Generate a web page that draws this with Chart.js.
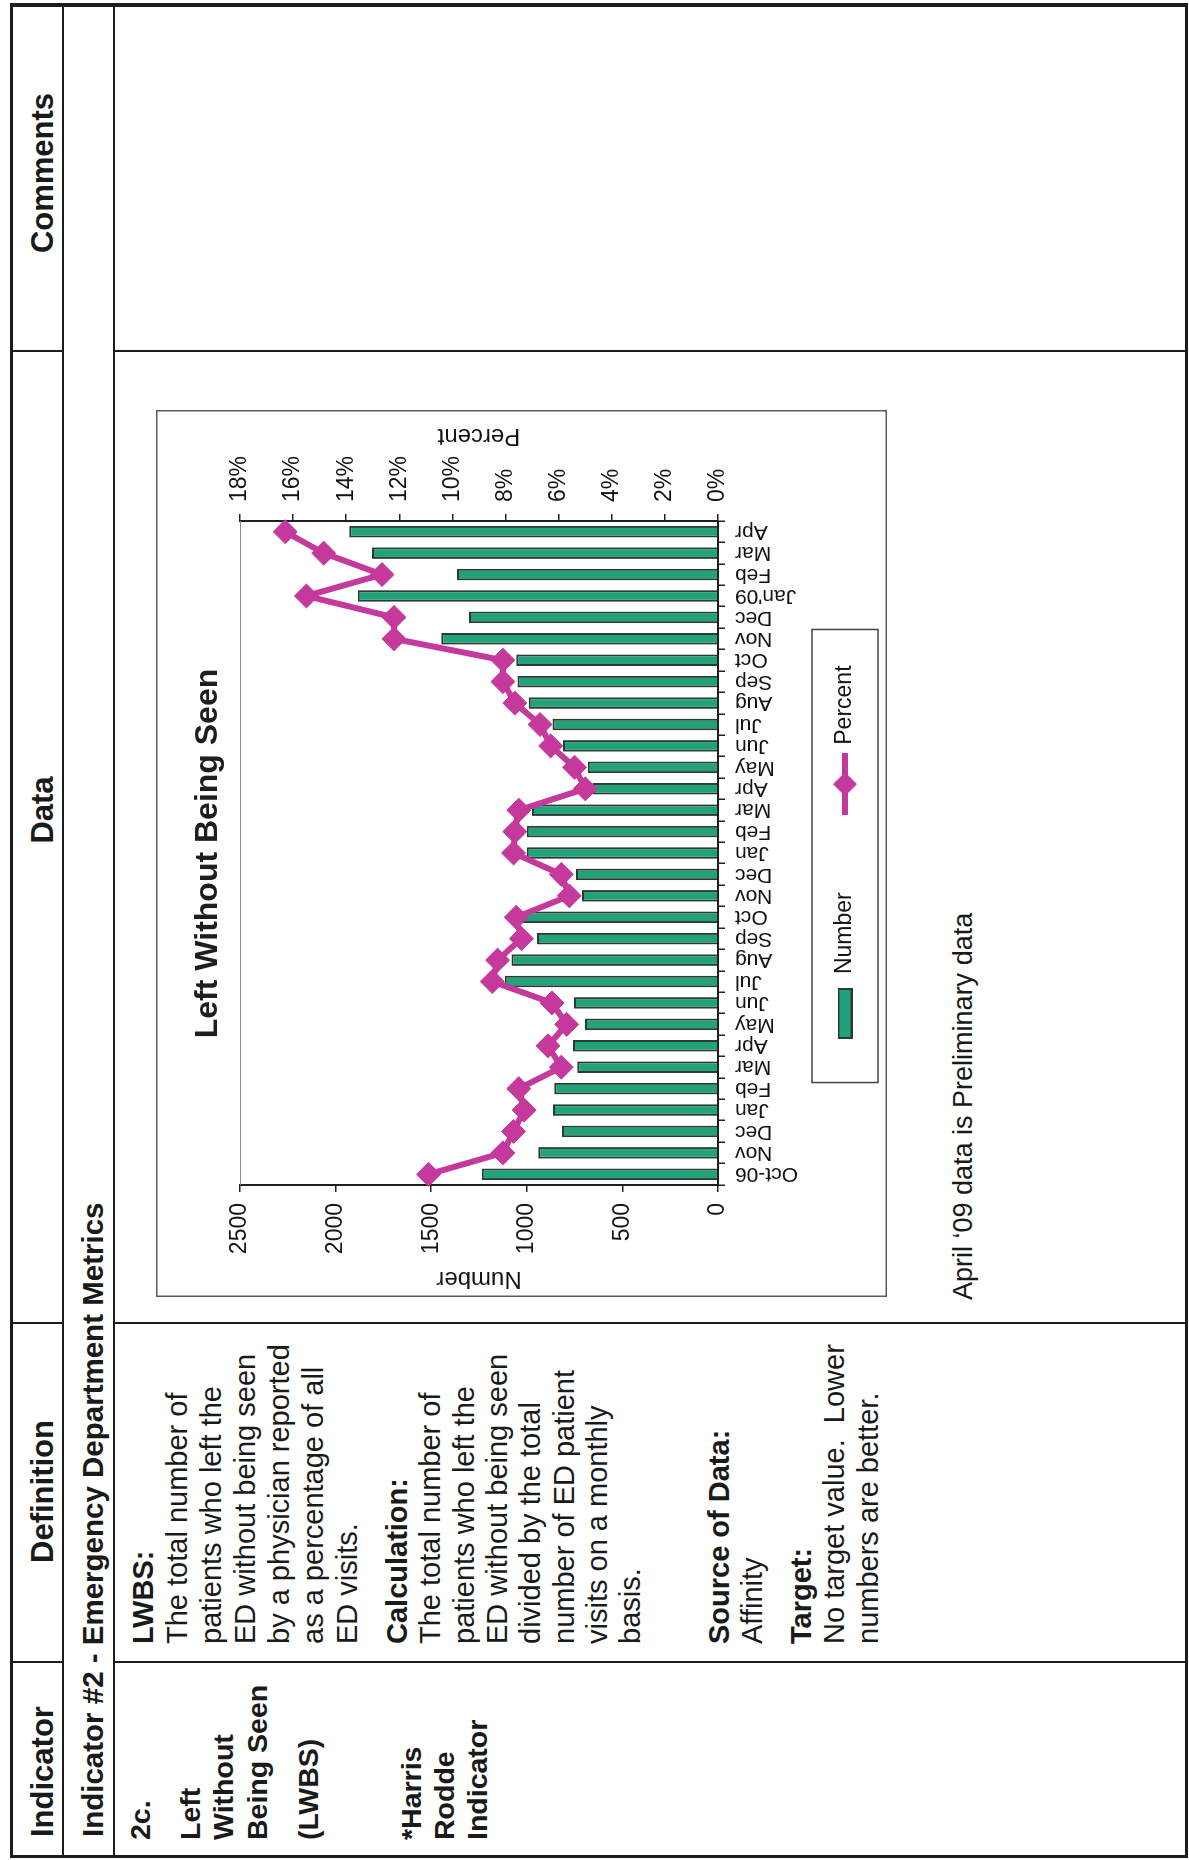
<!DOCTYPE html>
<html>
<head>
<meta charset="utf-8">
<script src="https://cdn.jsdelivr.net/npm/chart.js@4.4.1/dist/chart.umd.min.js"></script>
<style>
html,body{margin:0;padding:0;background:#fff;overflow:hidden;width:1189px;height:1860px;}
#page{position:absolute;left:0;top:0;width:1860px;height:1189px;transform-origin:0 0;transform:translate(0px,1860px) rotate(-90deg);font-family:'Liberation Sans',Arial,sans-serif;color:#1a1a1a;background:#fff;}
.ln{position:absolute;background:#1c1c1c;}
.t{position:absolute;white-space:pre;line-height:1;}
.b{font-weight:bold;}
.h{font-size:31px;font-weight:bold;top:26.8px;}
.c{text-align:center;width:400px;}
.ind{font-size:28.5px;font-weight:bold;left:20px;}
.def{font-size:29px;left:216px;}
#chartWrap{position:absolute;left:563px;top:156px;width:887px;height:731px;}
</style>
</head>
<body>
<div id="page">
  <!-- outer borders -->
  <div class="ln" style="left:2px;top:10px;width:1855px;height:2.5px;"></div>
  <div class="ln" style="left:2px;top:1185px;width:1855px;height:3px;"></div>
  <div class="ln" style="left:2px;top:10px;width:3px;height:1178px;"></div>
  <div class="ln" style="left:1853px;top:10px;width:4px;height:1178px;"></div>
  <!-- row lines -->
  <div class="ln" style="left:2px;top:62px;width:1855px;height:2px;"></div>
  <div class="ln" style="left:2px;top:113px;width:1855px;height:2px;"></div>
  <!-- header column separators -->
  <div class="ln" style="left:197px;top:10px;width:2px;height:53px;"></div>
  <div class="ln" style="left:536px;top:10px;width:2px;height:53px;"></div>
  <div class="ln" style="left:1508px;top:10px;width:2px;height:53px;"></div>
  <!-- content column separators -->
  <div class="ln" style="left:197px;top:114px;width:2px;height:1073px;"></div>
  <div class="ln" style="left:536px;top:114px;width:2px;height:1073px;"></div>
  <div class="ln" style="left:1508px;top:114px;width:2px;height:1073px;"></div>

  <!-- header texts -->
  <div class="t h" style="left:23px;">Indicator</div>
  <div class="t h c" style="left:168.5px;">Definition</div>
  <div class="t h c" style="left:850px;">Data</div>
  <div class="t h c" style="left:1487px;">Comments</div>

  <div class="t b" style="left:23px;top:78px;font-size:29.5px;">Indicator #2 - Emergency Department Metrics</div>

  <!-- indicator column -->
  <div class="t ind" style="top:125.9px;">2c.</div>
  <div class="t ind" style="top:175.9px;">Left</div>
  <div class="t ind" style="top:209.4px;">Without</div>
  <div class="t ind" style="top:242.9px;">Being Seen</div>
  <div class="t ind" style="top:293.9px;">(LWBS)</div>
  <div class="t ind" style="top:397.4px;">*Harris</div>
  <div class="t ind" style="top:429.9px;">Rodde</div>
  <div class="t ind" style="top:462.9px;">Indicator</div>

  <!-- definition column -->
  <div class="t def b" style="top:128.5px;">LWBS:</div>
  <div class="t def" style="top:162.5px;">The total number of</div>
  <div class="t def" style="top:196.5px;">patients who left the</div>
  <div class="t def" style="top:230.5px;">ED without being seen</div>
  <div class="t def" style="top:264.5px;">by a physician reported</div>
  <div class="t def" style="top:298.5px;">as a percentage of all</div>
  <div class="t def" style="top:332.5px;">ED visits.</div>
  <div class="t def b" style="top:382.5px;">Calculation:</div>
  <div class="t def" style="top:416px;">The total number of</div>
  <div class="t def" style="top:449.5px;">patients who left the</div>
  <div class="t def" style="top:482.5px;">ED without being seen</div>
  <div class="t def" style="top:516px;">divided by the total</div>
  <div class="t def" style="top:549.5px;">number of ED patient</div>
  <div class="t def" style="top:582.5px;">visits on a monthly</div>
  <div class="t def" style="top:616px;">basis.</div>
  <div class="t def b" style="top:704.5px;">Source of Data:</div>
  <div class="t def" style="top:738px;">Affinity</div>
  <div class="t def b" style="top:786.5px;">Target:</div>
  <div class="t def" style="top:820px;">No target value.  Lower</div>
  <div class="t def" style="top:853.5px;">numbers are better.</div>

  <!-- data column note -->
  <div class="t" style="left:560px;top:950px;font-size:27px;">April ‘09 data is Preliminary data</div>

  <div id="chartWrap"><canvas id="c"></canvas></div>
</div>

<script>
// ---------- data ----------
const categories = ['Oct-06','Nov','Dec','Jan','Feb','Mar','Apr','May','Jun','Jul','Aug','Sep','Oct','Nov','Dec',
                    'Jan','Feb','Mar','Apr','May','Jun','Jul','Aug','Sep','Oct','Nov','Dec',"Jan'09",'Feb','Mar','Apr'];
const numberValues = [1235, 940, 816, 863, 856, 736, 758, 696, 753, 1115, 1080, 946, 1090, 711, 743,
                      1000, 1000, 973, 655, 681, 811, 866, 990, 1048, 1055, 1447, 1302, 1884, 1365, 1809, 1929];
const percentValues = [10.9, 8.1, 7.7, 7.3, 7.5, 5.9, 6.4, 5.7, 6.25, 8.5, 8.3, 7.4, 7.6, 5.6, 5.9,
                       7.7, 7.65, 7.5, 5.0, 5.4, 6.3, 6.7, 7.65, 8.1, 8.1, 12.2, 12.2, 15.5, 12.65, 14.85, 16.3];
const numberTickValues = [0, 500, 1000, 1500, 2000, 2500];
const percentTickValues = [0, 2, 4, 6, 8, 10, 12, 14, 16, 18];
const seriesNames = ['Number', 'Percent'];
const chartTitle = 'Left Without Being Seen';

// ---------- styles ----------
const FONT = "'Liberation Sans', Arial, sans-serif";
const BAR_FILL = '#22a27a';
const BAR_EDGE = '#2c3a34';
const LINE_COL = '#c4399b';
const TXT = '#141414';

Chart.defaults.font.family = FONT;
Chart.defaults.color = TXT;

function makeSwatch() {
  const c = document.createElement('canvas');
  c.width = 51; c.height = 15;
  const g = c.getContext('2d');
  g.fillStyle = BAR_FILL; g.fillRect(1, 1, 49, 13);
  g.strokeStyle = BAR_EDGE; g.lineWidth = 2; g.strokeRect(1, 1, 49, 13);
  return c;
}
function makeLineMark() {
  const c = document.createElement('canvas');
  c.width = 62; c.height = 26;
  const g = c.getContext('2d');
  g.strokeStyle = LINE_COL; g.lineWidth = 6;
  g.beginPath(); g.moveTo(0, 13); g.lineTo(62, 13); g.stroke();
  g.fillStyle = LINE_COL;
  g.beginPath(); g.moveTo(31, 1); g.lineTo(43, 13); g.lineTo(31, 25); g.lineTo(19, 13); g.closePath(); g.fill();
  return c;
}
const swatch = makeSwatch();
const lineMark = makeLineMark();

const extras = {
  id: 'extras',
  beforeDraw(chart) {
    const {ctx, width, height} = chart;
    ctx.save();
    ctx.fillStyle = '#fff'; ctx.fillRect(0, 0, width, height);
    ctx.strokeStyle = '#5a5a5a'; ctx.lineWidth = 1.5;
    ctx.strokeRect(0.75, 0.75, width - 1.5, height - 1.5);
    ctx.restore();
  },
  afterDraw(chart) {
    const {ctx, chartArea: a} = chart;
    ctx.save();
    ctx.strokeStyle = '#8a8a8a'; ctx.lineWidth = 1;
    ctx.beginPath(); ctx.moveTo(a.left, a.top + 0.5); ctx.lineTo(a.right, a.top + 0.5); ctx.stroke();
    ctx.restore();
    // secondary axis title (reads bottom-to-top as in the original)
    ctx.save();
    ctx.fillStyle = TXT; ctx.font = '24px ' + FONT;
    ctx.translate(861, (a.top + a.bottom) / 2);
    ctx.rotate(-Math.PI / 2);
    ctx.textAlign = 'center'; ctx.textBaseline = 'middle';
    ctx.fillText(seriesNames[1], 0, 0);
    ctx.restore();
    // legend frame
    const hb = chart.legend && chart.legend.legendHitBoxes;
    if (hb && hb.length) {
      const last = hb[hb.length - 1];
      const l = hb[0].left - 41, r = last.left + last.width + 36;
      const cy = hb[0].top + hb[0].height / 2;
      ctx.save();
      ctx.strokeStyle = '#444'; ctx.lineWidth = 1.5;
      ctx.strokeRect(l, cy - 33, r - l, 66);
      ctx.restore();
    }
  }
};

new Chart(document.getElementById('c'), {
  type: 'bar',
  data: {
    labels: categories,
    datasets: [
      {
        type: 'line', label: seriesNames[1], data: percentValues, yAxisID: 'y2', order: 0,
        borderColor: LINE_COL, backgroundColor: LINE_COL, borderWidth: 6, tension: 0,
        pointStyle: 'rectRot', pointRadius: 12, pointHoverRadius: 12,
        pointBackgroundColor: LINE_COL, pointBorderColor: LINE_COL, pointBorderWidth: 1
      },
      {
        type: 'bar', label: seriesNames[0], data: numberValues, yAxisID: 'y', order: 1,
        backgroundColor: BAR_FILL, borderColor: BAR_EDGE, borderWidth: 2,
        barPercentage: 0.54, categoryPercentage: 1.0
      }
    ]
  },
  options: {
    responsive: true, maintainAspectRatio: false, animation: false,
    layout: { padding: { left: 0, right: 0, top: 0, bottom: 20.5 } },
    plugins: {
      tooltip: { enabled: false },
      title: {
        display: true, text: chartTitle, color: '#1e1e1e',
        font: { size: 32, weight: 'bold', lineHeight: 1.2 },
        padding: { top: 33, bottom: 12.6 }
      },
      legend: {
        display: true, position: 'bottom',
        labels: {
          usePointStyle: true, pointStyleWidth: 56, padding: 80,
          font: { size: 23 }, color: TXT,
          generateLabels: () => [
            { text: seriesNames[0], pointStyle: swatch, fillStyle: BAR_FILL, strokeStyle: BAR_EDGE, lineWidth: 0, hidden: false, datasetIndex: 1, fontColor: TXT },
            { text: seriesNames[1], pointStyle: lineMark, fillStyle: LINE_COL, strokeStyle: LINE_COL, lineWidth: 0, hidden: false, datasetIndex: 0, fontColor: TXT }
          ]
        }
      }
    },
    scales: {
      x: {
        type: 'category', offset: true,
        grid: { display: true, drawOnChartArea: false, offset: true, tickLength: 7, color: '#222', lineWidth: 1.5 },
        border: { display: true, color: '#1e1e1e', width: 2 },
        ticks: { autoSkip: false, minRotation: 90, maxRotation: 90, padding: 10, color: TXT, font: { size: 21 } },
        afterFit: s => { s.height = 35.5; s._computeLabelArea = () => undefined; }
      },
      y: {
        position: 'left',
        min: numberTickValues[0], max: numberTickValues[numberTickValues.length - 1],
        ticks: { stepSize: numberTickValues[1] - numberTickValues[0], padding: 11, color: TXT, font: { size: 23 },
                 callback: v => String(v) },
        grid: { display: true, drawOnChartArea: false, tickLength: 7, color: '#222', lineWidth: 1.5 },
        border: { display: true, color: '#1e1e1e', width: 2 },
        title: { display: true, text: seriesNames[0], color: TXT, font: { size: 24 }, padding: { top: 4, bottom: 0 } },
        afterFit: s => { s.width = 112; }
      },
      y2: {
        position: 'right',
        min: percentTickValues[0], max: percentTickValues[percentTickValues.length - 1],
        ticks: { stepSize: percentTickValues[1] - percentTickValues[0], padding: 12, color: TXT, font: { size: 23 },
                 callback: v => v + '%' },
        grid: { display: true, drawOnChartArea: false, tickLength: 7, color: '#222', lineWidth: 1.5 },
        border: { display: true, color: '#1e1e1e', width: 2 },
        afterFit: s => { s.width = 111; }
      }
    }
  },
  plugins: [extras]
});
</script>
</body>
</html>
